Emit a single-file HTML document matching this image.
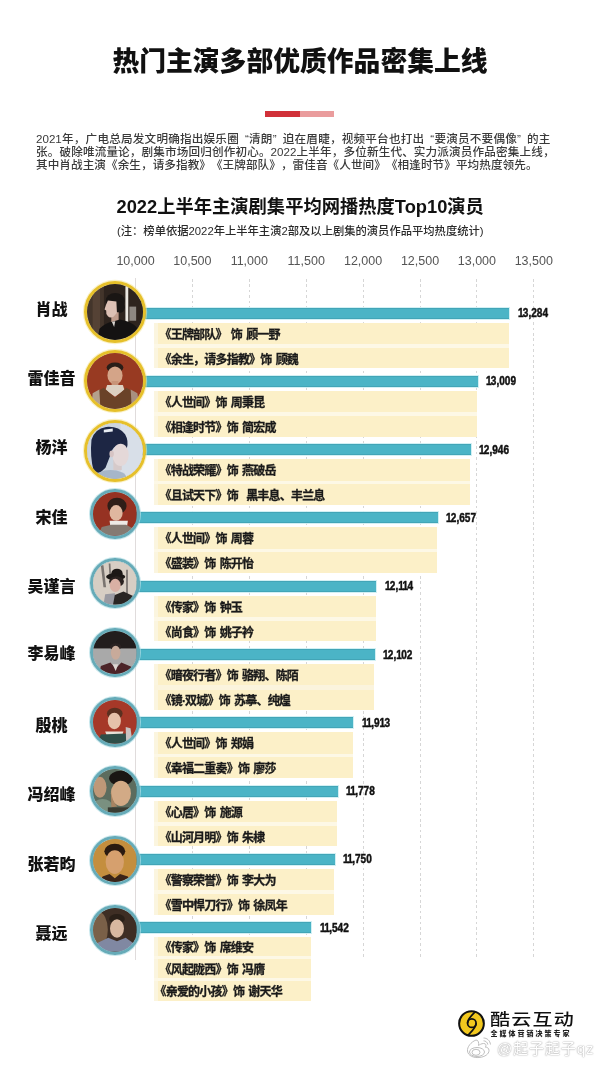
<!DOCTYPE html><html lang="zh-CN"><head><meta charset="utf-8"><title>热门主演多部优质作品密集上线</title><style>
*{margin:0;padding:0;box-sizing:border-box}
html,body{width:600px;height:1066px;background:#fff;overflow:hidden}
body{position:relative;font-family:"Liberation Sans","Noto Sans CJK SC",sans-serif;color:#111}
.a{position:absolute;white-space:nowrap}
.cjk{font-family:"Liberation Sans","Noto Sans CJK SC",sans-serif}
.t1{left:0;width:600px;text-align:center;top:44.5px;font-size:26.8px;line-height:34px;font-weight:900;color:#111}
.p{left:36px;width:521px;font-size:11.6px;line-height:13px;color:#3a3a3a;font-weight:500;font-family:"Liberation Sans","Noto Sans CJK SC",sans-serif;font-feature-settings:normal;text-spacing-trim:space-all}
.j{text-align:justify;text-align-last:justify}
.ql{padding-left:6px}.qr{padding-right:6px}
.t2{left:116.5px;top:194.5px;font-size:18.3px;line-height:24px;font-weight:700;color:#111}
.note{left:117px;top:222.5px;font-size:11.3px;line-height:16px;color:#2a2a2a;font-weight:500}
.ax{font-size:12.5px;line-height:14px;color:#555;width:60px;text-align:center}
.gl{position:absolute;top:279px;height:680px;width:1px;background:repeating-linear-gradient(to bottom,#d6d6d6 0,#d6d6d6 2.6px,transparent 2.6px,transparent 5.4px)}
.bar{position:absolute;height:11px;background:#4bb4c6;box-shadow:0 0 0 1px rgba(205,238,243,0.9),inset 0 1px 0 rgba(40,120,140,0.25),inset 0 -1px 0 rgba(40,120,140,0.25)}
.box{position:absolute;text-spacing-trim:trim-start;letter-spacing:-0.8px;word-spacing:1.6px;background:linear-gradient(to right,#fbf5df 0,#fbf5df 4px,#fcf0c8 4px);font-size:12px;font-weight:700;-webkit-text-stroke:0.3px #1a1a1a;color:#1a1a1a;padding-left:12px;white-space:pre;overflow:hidden}
.val{position:absolute;font-size:12px;font-weight:700;color:#111;transform-origin:0 50%;transform:scaleX(0.84);line-height:14px;-webkit-text-stroke:0.45px #111}
.o{letter-spacing:-0.9px}
.nm{position:absolute;left:11px;width:81px;text-align:center;font-size:16px;font-weight:900;line-height:20px;color:#111}
.av{position:absolute;border-radius:50%;overflow:hidden}
</style></head><body>
<div class="a t1 cjk">热门主演多部优质作品密集上线</div>
<div class="a" style="left:265px;top:111px;width:35px;height:6px;background:#d13139"></div>
<div class="a" style="left:300px;top:111px;width:34px;height:6px;background:#ea9c9d"></div>
<div class="a p j" style="top:132px;width:514.5px">2021年，广电总局发文明确指出娱乐圈<span class="ql">“</span>清朗<span class="qr">”</span>迫在眉睫，视频平台也打出<span class="ql">“</span>要演员不要偶像<span class="qr">”</span>的主</div>
<div class="a p j" style="top:145px;width:518.5px">张。破除唯流量论，剧集市场回归创作初心。2022上半年，多位新生代、实力派演员作品密集上线，</div>
<div class="a p" style="top:158px;letter-spacing:0.07px">其中肖战主演《余生，请多指教》《王牌部队》，雷佳音《人世间》《相逢时节》平均热度领先。</div>
<div class="a t2">2022上半年主演剧集平均网播热度Top10演员</div>
<div class="a note">(注：榜单依据2022年上半年主演2部及以上剧集的演员作品平均热度统计)</div>
<div class="a ax" style="left:105.5px;top:254px">10,000</div>
<div class="a" style="left:135.0px;top:278px;width:1px;height:682px;background:#e0dcdc"></div>
<div class="a ax" style="left:162.4px;top:254px">10,500</div>
<div class="gl" style="left:191.9px"></div>
<div class="a ax" style="left:219.3px;top:254px">11,000</div>
<div class="gl" style="left:248.8px"></div>
<div class="a ax" style="left:276.2px;top:254px">11,500</div>
<div class="gl" style="left:305.7px"></div>
<div class="a ax" style="left:333.1px;top:254px">12,000</div>
<div class="gl" style="left:362.6px"></div>
<div class="a ax" style="left:390.0px;top:254px">12,500</div>
<div class="gl" style="left:419.5px"></div>
<div class="a ax" style="left:446.9px;top:254px">13,000</div>
<div class="gl" style="left:476.4px"></div>
<div class="a ax" style="left:503.8px;top:254px">13,500</div>
<div class="gl" style="left:533.3px"></div>
<div class="bar" style="left:135px;top:307.5px;width:374.2px"></div>
<div class="a" style="left:153.5px;top:322.5px;width:355.2px;height:45.8px;background:#fdf8e6"></div>
<div class="box" style="left:153.5px;top:322.5px;width:355.2px;height:21.5px;line-height:25.5px;padding-left:12px">《王牌部队》 饰 顾一野</div>
<div class="box" style="left:153.5px;top:347.5px;width:355.2px;height:20.8px;line-height:24.8px;padding-left:12px">《余生，请多指教》饰 顾魏</div>
<div class="val" style="left:517.7px;top:306.0px"><span class="o">1</span>3,284</div>
<div class="av" style="left:83.8px;top:280.6px;width:62.5px;height:62.5px;border:3.2px solid #e6c02a;box-shadow:0 0 0 1.2px rgba(246,230,150,0.55),inset 0 0 0 1px rgba(170,130,25,0.7)"><svg viewBox="0 0 100 100" preserveAspectRatio="none" style="width:100%;height:100%;display:block;filter:blur(0.7px)"><rect width="100" height="100" fill="#2e241e"/>
<rect x="0" y="0" width="30" height="100" fill="#43352b"/>
<rect x="10" y="0" width="13" height="100" fill="#554235"/>
<rect x="68" y="4" width="5" height="63" fill="#ece8e2"/>
<rect x="75" y="40" width="12" height="25" fill="#8e8882"/>
<ellipse cx="50" cy="30" rx="17" ry="14" fill="#1a1614"/>
<ellipse cx="58" cy="41" rx="9" ry="10" fill="#1a1614"/>
<rect x="43" y="50" width="13" height="18" fill="#bf9c8c"/>
<path d="M37,29 Q33,37 31,45 L34,47 Q33,53 37,57 Q41,61 47,58 L53,51 L52,31 Z" fill="#dcc0b4"/>
<path d="M18,100 L22,79 Q33,69 45,67 L58,63 Q78,66 88,77 L93,100 Z" fill="#141212"/>
<path d="M44,67 L50,66 L48,76 Z" fill="#d8d4d0"/></svg></div>
<div class="nm" style="top:299.5px">肖战</div>
<div class="bar" style="left:135px;top:375.8px;width:342.9px"></div>
<div class="a" style="left:153.5px;top:390.8px;width:323.9px;height:45.8px;background:#fdf8e6"></div>
<div class="box" style="left:153.5px;top:390.8px;width:323.9px;height:21.5px;line-height:25.5px;padding-left:12px">《人世间》饰 周秉昆</div>
<div class="box" style="left:153.5px;top:415.8px;width:323.9px;height:20.8px;line-height:24.8px;padding-left:12px">《相逢时节》饰 简宏成</div>
<div class="val" style="left:486.4px;top:374.3px"><span class="o">1</span>3,009</div>
<div class="av" style="left:84.2px;top:349.9px;width:62px;height:62px;border:3.2px solid #e6c02a;box-shadow:0 0 0 1.2px rgba(246,230,150,0.55),inset 0 0 0 1px rgba(170,130,25,0.7)"><svg viewBox="0 0 100 100" preserveAspectRatio="none" style="width:100%;height:100%;display:block;filter:blur(0.7px)"><rect width="100" height="100" fill="#983a22"/>
<ellipse cx="50" cy="26" rx="15" ry="9" fill="#2a1e18"/>
<ellipse cx="50" cy="40" rx="13.5" ry="16" fill="#d4a488"/>
<rect x="44" y="50" width="12" height="10" fill="#c89478"/>
<path d="M36,57 L64,57 L67,66 L50,78 L33,66 Z" fill="#dcd0c2"/>
<path d="M8,100 L12,72 L30,62 L50,80 L70,62 L88,72 L94,100 Z" fill="#6a4228"/>
<path d="M10,72 L22,65 L24,100 L8,100 Z" fill="#b4a08c"/>
<path d="M78,65 L90,72 L94,100 L80,100 Z" fill="#a89080"/></svg></div>
<div class="nm" style="top:368.9px">雷佳音</div>
<div class="bar" style="left:135px;top:444.1px;width:335.8px"></div>
<div class="a" style="left:153.5px;top:459.1px;width:316.8px;height:45.8px;background:#fdf8e6"></div>
<div class="box" style="left:153.5px;top:459.1px;width:316.8px;height:21.5px;line-height:25.5px;padding-left:12px">《特战荣耀》饰 燕破岳</div>
<div class="box" style="left:153.5px;top:484.1px;width:316.8px;height:20.8px;line-height:24.8px;padding-left:12px">《且试天下》饰  黑丰息、丰兰息</div>
<div class="val" style="left:479.3px;top:442.6px"><span class="o">1</span>2,946</div>
<div class="av" style="left:84.2px;top:419.7px;width:62px;height:62px;border:3.2px solid #e6c02a;box-shadow:0 0 0 1.2px rgba(246,230,150,0.55),inset 0 0 0 1px rgba(170,130,25,0.7)"><svg viewBox="0 0 100 100" preserveAspectRatio="none" style="width:100%;height:100%;display:block;filter:blur(0.7px)"><rect width="100" height="100" fill="#ccd5e0"/>
<rect x="60" y="0" width="40" height="100" fill="#d8dfe8"/>
<path d="M8,30 Q14,10 34,7 Q56,5 68,20 Q75,32 71,46 L62,40 Q50,38 45,48 L40,62 L33,80 L22,90 L12,86 Q5,60 8,30 Z" fill="#1d2644"/>
<path d="M30,12 L46,10 L46,15 L30,17 Z" fill="#e8ecf2"/>
<rect x="47" y="66" width="15" height="18" fill="#d6caca"/>
<ellipse cx="60" cy="57" rx="14.5" ry="20" fill="#e4d8d8"/>
<ellipse cx="44" cy="55" rx="4" ry="6" fill="#d6c4c4"/>
<ellipse cx="42" cy="97" rx="28" ry="13" fill="#a6b6c8"/></svg></div>
<div class="nm" style="top:437.9px">杨洋</div>
<div class="bar" style="left:135px;top:512.4px;width:302.9px"></div>
<div class="a" style="left:153.5px;top:527.4px;width:283.9px;height:45.8px;background:#fdf8e6"></div>
<div class="box" style="left:153.5px;top:527.4px;width:283.9px;height:21.5px;line-height:25.5px;padding-left:12px">《人世间》饰 周蓉</div>
<div class="box" style="left:153.5px;top:552.4px;width:283.9px;height:20.8px;line-height:24.8px;padding-left:12px">《盛装》饰 陈开怡</div>
<div class="val" style="left:446.4px;top:510.9px"><span class="o">1</span>2,657</div>
<div class="av" style="left:90.0px;top:489.2px;width:49.6px;height:49.6px;border:3px solid #66abb8;box-shadow:0 0 0 1px rgba(178,222,230,0.7),inset 0 0 0 0.8px rgba(60,130,145,0.8)"><svg viewBox="0 0 100 100" preserveAspectRatio="none" style="width:100%;height:100%;display:block;filter:blur(0.7px)"><rect width="100" height="100" fill="#963222"/>
<ellipse cx="55" cy="32" rx="22" ry="19" fill="#2e1e18"/>
<ellipse cx="53" cy="48" rx="15" ry="18" fill="#dfb79f"/>
<path d="M38,66 L80,66 L78,79 L40,79 Z" fill="#eeeae6"/>
<path d="M12,100 L20,80 L42,75 L76,75 L96,86 L96,100 Z" fill="#857a72"/></svg></div>
<div class="nm" style="top:507.7px">宋佳</div>
<div class="bar" style="left:135px;top:580.7px;width:241.1px"></div>
<div class="a" style="left:153.5px;top:595.7px;width:222.1px;height:45.8px;background:#fdf8e6"></div>
<div class="box" style="left:153.5px;top:595.7px;width:222.1px;height:21.5px;line-height:25.5px;padding-left:12px">《传家》饰 钟玉</div>
<div class="box" style="left:153.5px;top:620.7px;width:222.1px;height:20.8px;line-height:24.8px;padding-left:12px">《尚食》饰 姚子衿</div>
<div class="val" style="left:384.6px;top:579.2px"><span class="o">1</span>2,<span class="o">1</span><span class="o">1</span>4</div>
<div class="av" style="left:90.0px;top:558.2px;width:49.6px;height:49.6px;border:3px solid #66abb8;box-shadow:0 0 0 1px rgba(178,222,230,0.7),inset 0 0 0 0.8px rgba(60,130,145,0.8)"><svg viewBox="0 0 100 100" preserveAspectRatio="none" style="width:100%;height:100%;display:block;filter:blur(0.7px)"><rect width="100" height="100" fill="#d7cec4"/>
<path d="M18,10 L24,10 L30,60 L24,60 Z M36,6 L40,6 L42,40 L38,40 Z M76,20 L80,20 L80,80 L76,80 Z" fill="#7a7470"/>
<ellipse cx="55" cy="28" rx="13" ry="10" fill="#1c1816"/>
<ellipse cx="52" cy="36" rx="22" ry="8" fill="#1c1816"/>
<ellipse cx="54" cy="47" rx="17" ry="12" fill="#2a2220"/>
<ellipse cx="51" cy="56" rx="12.5" ry="15" fill="#d9b0a4"/>
<path d="M24,100 L28,76 L50,74 L54,100 Z" fill="#9a9aa2"/>
<path d="M46,100 L50,78 L70,70 L92,80 L96,100 Z" fill="#2a2624"/></svg></div>
<div class="nm" style="top:577.0px">吴谨言</div>
<div class="bar" style="left:135px;top:649.0px;width:239.7px"></div>
<div class="a" style="left:153.5px;top:664.0px;width:220.7px;height:45.8px;background:#fdf8e6"></div>
<div class="box" style="left:153.5px;top:664.0px;width:220.7px;height:21.5px;line-height:25.5px;padding-left:12px">《暗夜行者》饰 骆翔、陈陌</div>
<div class="box" style="left:153.5px;top:689.0px;width:220.7px;height:20.8px;line-height:24.8px;padding-left:12px">《镜·双城》饰 苏摹、纯煌</div>
<div class="a" style="left:153.5px;top:685.0px;width:220.7px;height:5px;background:#fbf4dd"></div>
<div class="val" style="left:383.2px;top:647.5px"><span class="o">1</span>2,<span class="o">1</span>02</div>
<div class="av" style="left:90.0px;top:627.7px;width:49.6px;height:49.6px;border:3px solid #66abb8;box-shadow:0 0 0 1px rgba(178,222,230,0.7),inset 0 0 0 0.8px rgba(60,130,145,0.8)"><svg viewBox="0 0 100 100" preserveAspectRatio="none" style="width:100%;height:100%;display:block;filter:blur(0.7px)"><rect width="100" height="100" fill="#a9a9a9"/>
<rect width="100" height="40" fill="#221d1d"/>
<ellipse cx="52" cy="36" rx="13" ry="8" fill="#2a2222"/>
<ellipse cx="52" cy="50" rx="11" ry="16" fill="#c8aa9a"/>
<path d="M14,100 L18,80 L40,72 L52,86 L65,72 L88,82 L92,100 Z" fill="#4c2428"/>
<path d="M45,76 L58,76 L52,92 Z" fill="#dcd6d2"/></svg></div>
<div class="nm" style="top:644.2px">李易峰</div>
<div class="bar" style="left:135px;top:717.3px;width:218.2px"></div>
<div class="a" style="left:153.5px;top:732.3px;width:199.2px;height:45.8px;background:#fdf8e6"></div>
<div class="box" style="left:153.5px;top:732.3px;width:199.2px;height:21.5px;line-height:25.5px;padding-left:12px">《人世间》饰 郑娟</div>
<div class="box" style="left:153.5px;top:757.3px;width:199.2px;height:20.8px;line-height:24.8px;padding-left:12px">《幸福二重奏》饰 廖莎</div>
<div class="val" style="left:361.7px;top:715.8px"><span class="o">1</span><span class="o">1</span>,9<span class="o">1</span>3</div>
<div class="av" style="left:90.0px;top:697.2px;width:49.6px;height:49.6px;border:3px solid #66abb8;box-shadow:0 0 0 1px rgba(178,222,230,0.7),inset 0 0 0 0.8px rgba(60,130,145,0.8)"><svg viewBox="0 0 100 100" preserveAspectRatio="none" style="width:100%;height:100%;display:block;filter:blur(0.7px)"><rect width="100" height="100" fill="#a63828"/>
<ellipse cx="50" cy="31" rx="18" ry="13" fill="#5a3020"/>
<ellipse cx="49" cy="48" rx="15" ry="19" fill="#e6c2aa"/>
<path d="M28,72 L70,72 L66,83 L32,83 Z" fill="#e8e0d6"/>
<path d="M10,100 L18,79 L76,77 L82,100 Z" fill="#2e4e48"/>
<path d="M75,62 L86,65 L90,92 L76,96 Z" fill="#c8c2c0"/></svg></div>
<div class="nm" style="top:715.7px">殷桃</div>
<div class="bar" style="left:135px;top:785.6px;width:202.8px"></div>
<div class="a" style="left:153.5px;top:800.6px;width:183.8px;height:45.8px;background:#fdf8e6"></div>
<div class="box" style="left:153.5px;top:800.6px;width:183.8px;height:21.5px;line-height:25.5px;padding-left:12px">《心居》饰 施源</div>
<div class="box" style="left:153.5px;top:825.6px;width:183.8px;height:20.8px;line-height:24.8px;padding-left:12px">《山河月明》饰 朱棣</div>
<div class="val" style="left:346.3px;top:784.1px"><span class="o">1</span><span class="o">1</span>,778</div>
<div class="av" style="left:90.0px;top:766.2px;width:49.6px;height:49.6px;border:3px solid #66abb8;box-shadow:0 0 0 1px rgba(178,222,230,0.7),inset 0 0 0 0.8px rgba(60,130,145,0.8)"><svg viewBox="0 0 100 100" preserveAspectRatio="none" style="width:100%;height:100%;display:block;filter:blur(0.7px)"><rect width="100" height="100" fill="#5c6c5e"/>
<ellipse cx="16" cy="42" rx="15" ry="24" fill="#bf9878"/>
<ellipse cx="22" cy="85" rx="22" ry="16" fill="#7a9080"/>
<ellipse cx="64" cy="21" rx="27" ry="17" fill="#1a1614"/>
<ellipse cx="64" cy="56" rx="23" ry="29" fill="#d2aa86"/>
<path d="M41,50 Q44,75 56,86 L42,88 Z" fill="#a88462"/>
<rect x="34" y="88" width="66" height="12" fill="#3a3c32"/></svg></div>
<div class="nm" style="top:785.2px">冯绍峰</div>
<div class="bar" style="left:135px;top:853.9px;width:199.6px"></div>
<div class="a" style="left:153.5px;top:868.9px;width:180.6px;height:45.8px;background:#fdf8e6"></div>
<div class="box" style="left:153.5px;top:868.9px;width:180.6px;height:21.5px;line-height:25.5px;padding-left:12px">《警察荣誉》饰 李大为</div>
<div class="box" style="left:153.5px;top:893.9px;width:180.6px;height:20.8px;line-height:24.8px;padding-left:12px">《雪中悍刀行》饰 徐凤年</div>
<div class="val" style="left:343.1px;top:852.4px"><span class="o">1</span><span class="o">1</span>,750</div>
<div class="av" style="left:90.0px;top:835.7px;width:49.6px;height:49.6px;border:3px solid #66abb8;box-shadow:0 0 0 1px rgba(178,222,230,0.7),inset 0 0 0 0.8px rgba(60,130,145,0.8)"><svg viewBox="0 0 100 100" preserveAspectRatio="none" style="width:100%;height:100%;display:block;filter:blur(0.7px)"><rect width="100" height="100" fill="#c48e3e"/>
<ellipse cx="50" cy="28" rx="24" ry="17" fill="#2a1a10"/>
<ellipse cx="50" cy="53" rx="21" ry="27" fill="#d6a06e"/>
<path d="M14,100 L22,86 L38,80 L50,90 L62,80 L80,86 L88,100 Z" fill="#3a2418"/></svg></div>
<div class="nm" style="top:854.5px">张若昀</div>
<div class="bar" style="left:135px;top:922.2px;width:176.0px"></div>
<div class="a" style="left:153.5px;top:936.6px;width:157.0px;height:64.1px;background:#fdf8e6"></div>
<div class="box" style="left:153.5px;top:936.6px;width:157.0px;height:19.5px;line-height:23.5px;padding-left:12px">《传家》饰 席维安</div>
<div class="box" style="left:153.5px;top:958.9px;width:157.0px;height:19.5px;line-height:23.5px;padding-left:12px">《风起陇西》饰 冯膺</div>
<div class="box" style="left:153.5px;top:981.2px;width:157.0px;height:19.5px;line-height:23.5px;padding-left:7px">《亲爱的小孩》饰 谢天华</div>
<div class="val" style="left:319.5px;top:920.7px"><span class="o">1</span><span class="o">1</span>,542</div>
<div class="av" style="left:90.0px;top:905.2px;width:49.6px;height:49.6px;border:3px solid #66abb8;box-shadow:0 0 0 1px rgba(178,222,230,0.7),inset 0 0 0 0.8px rgba(60,130,145,0.8)"><svg viewBox="0 0 100 100" preserveAspectRatio="none" style="width:100%;height:100%;display:block;filter:blur(0.7px)"><rect width="100" height="100" fill="#3e2e24"/>
<ellipse cx="14" cy="50" rx="20" ry="40" fill="#7a6048"/>
<ellipse cx="55" cy="25" rx="18" ry="11" fill="#2a2018"/>
<ellipse cx="55" cy="47" rx="16" ry="21" fill="#d8b8a0"/>
<path d="M6,100 L10,80 L35,68 L55,76 L75,68 L92,80 L96,100 Z" fill="#8088a2"/></svg></div>
<div class="nm" style="top:923.8px">聂远</div>
<svg class="a" style="left:458px;top:1010px" width="27" height="27" viewBox="0 0 40 40"><circle cx="20" cy="20" r="18.3" fill="#f2c81e" stroke="#111" stroke-width="3"/><circle cx="20.5" cy="19.5" r="6.3" fill="none" stroke="#111" stroke-width="2.6"/><path d="M25.5,2.5 C20,8 14.2,13 14.2,19.5" fill="none" stroke="#111" stroke-width="2.6"/><path d="M26.8,19.5 C26.8,26 21,31 14.5,37.5" fill="none" stroke="#111" stroke-width="2.6"/></svg>
<div class="a" style="left:490px;top:1008.5px;font-size:16px;line-height:22px;font-weight:500;color:#111;letter-spacing:1px;transform-origin:0 0;transform:scaleX(1.25)">酷云互动</div>
<div class="a" style="left:490.5px;top:1028.5px;font-size:7px;line-height:9px;font-weight:900;color:#222;letter-spacing:2px">全媒体营销决策专家</div>
<svg class="a" style="left:466px;top:1036px" width="27" height="23" viewBox="0 0 27 23" fill="none" stroke="#b8b8b8" stroke-width="0.9"><path d="M10,4 C5,6 1,11 1.5,15 C2,20 8,22 13,21.5 C19,21 23,18 23,14.5 C23,12 21,11 19.5,11.3 C20.5,9 20,7.5 17.5,7.5 C15.5,7.5 13.5,8.8 12.5,9.5 C13,7 12.5,4 10,4 Z"/><ellipse cx="11" cy="16" rx="7.5" ry="4.5"/><ellipse cx="10" cy="16.3" rx="4" ry="3"/><path d="M17.5,2 C21,2 24,4.5 24.5,8.5"/><path d="M17.5,4.8 C19.5,4.8 21.5,6.2 21.8,8.6"/></svg>
<div class="a" style="left:497px;top:1040px;font-size:15px;line-height:18px;color:#fff;letter-spacing:0.9px;text-shadow:0 0 1px #999,0 0 2px #bbb">@起子起子qz</div>
</body></html>
